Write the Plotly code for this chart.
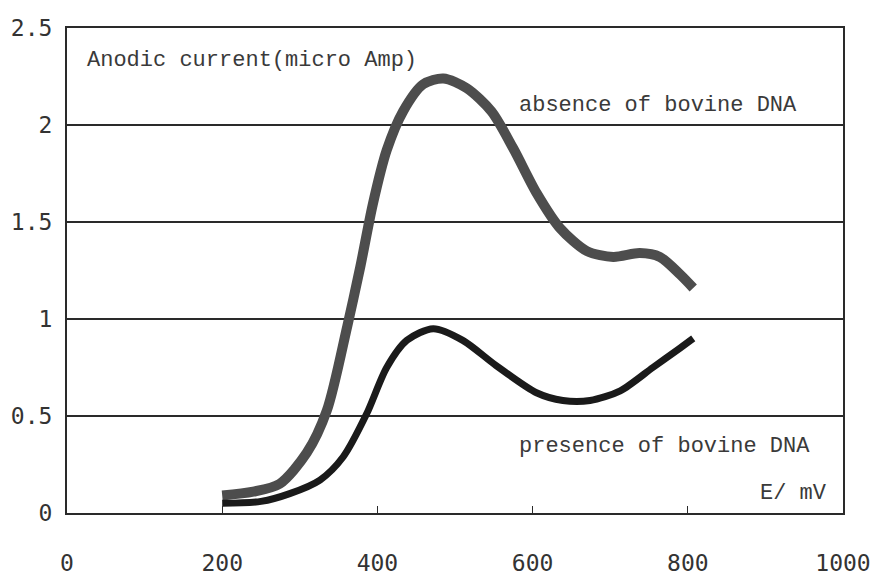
import plotly.graph_objects as go

# Potential E (mV) and anodic current (micro Amp)
e_absence = [200, 240, 274, 309, 335, 361, 378, 394, 412, 433, 459, 485, 515, 547, 575,
             605, 635, 670, 704, 738, 764, 790, 807]
i_absence = [0.09, 0.11, 0.15, 0.31, 0.53, 0.96, 1.27, 1.59, 1.87, 2.07, 2.21, 2.24, 2.19,
             2.07, 1.88, 1.65, 1.47, 1.35, 1.32, 1.34, 1.32, 1.23, 1.16]

e_presence = [200, 250, 287, 326, 356, 386, 412, 438, 472, 510, 553, 605, 639, 674,
              713, 755, 790, 807]
i_presence = [0.05, 0.06, 0.10, 0.17, 0.29, 0.51, 0.75, 0.89, 0.95, 0.89, 0.76, 0.62,
              0.58, 0.58, 0.63, 0.75, 0.85, 0.90]

x_ticks = [0, 200, 400, 600, 800, 1000]
y_ticks = [0, 0.5, 1, 1.5, 2, 2.5]
y_tick_text = ["0", "0.5", "1", "1.5", "2", "2.5"]

labels = [
    ("Anodic current(micro Amp)", 23, 2.33),
    ("absence of bovine DNA", 580, 2.10),
    ("presence of bovine DNA", 580, 0.345),
    ("E/ mV", 890, 0.10),
]

fig = go.Figure()
fig.add_trace(go.Scatter(x=e_absence, y=i_absence, mode="lines",
                         line=dict(color="#4d4d4d", width=10, shape="spline", smoothing=0.8),
                         showlegend=False))
fig.add_trace(go.Scatter(x=e_presence, y=i_presence, mode="lines",
                         line=dict(color="#1a1a1a", width=7, shape="spline", smoothing=0.8),
                         showlegend=False))

for text, xv, yv in labels:
    fig.add_annotation(x=xv, y=yv, xref="x", yref="y", text=text, showarrow=False,
                       xanchor="left", yanchor="middle",
                       font=dict(family="Liberation Mono", size=22, color="#3a3a3a"))

fig.update_layout(
    width=874, height=572,
    margin=dict(l=59, r=39, t=20, b=67),
    paper_bgcolor="white", plot_bgcolor="white",
    showlegend=False,
)
fig.update_xaxes(range=[0, 1000], tickvals=x_ticks, ticktext=[str(v) for v in x_ticks],
                 showgrid=False, zeroline=False, showline=True, linecolor="#2a2a2a",
                 linewidth=2, mirror=True, ticks="inside", ticklen=7, tickcolor="#2a2a2a",
                 tickwidth=1, ticklabelstandoff=28, automargin=False,
                 tickfont=dict(family="DejaVu Sans Mono", size=23, color="#333333"))
fig.update_yaxes(range=[0, 2.5], tickvals=y_ticks, ticktext=y_tick_text,
                 showgrid=True, gridcolor="#2a2a2a", gridwidth=2, zeroline=False,
                 showline=True, linecolor="#2a2a2a", linewidth=2, mirror=True,
                 ticks="", ticklabelstandoff=8, automargin=False,
                 tickfont=dict(family="DejaVu Sans Mono", size=23, color="#333333"))

fig.write_html("out.html")
